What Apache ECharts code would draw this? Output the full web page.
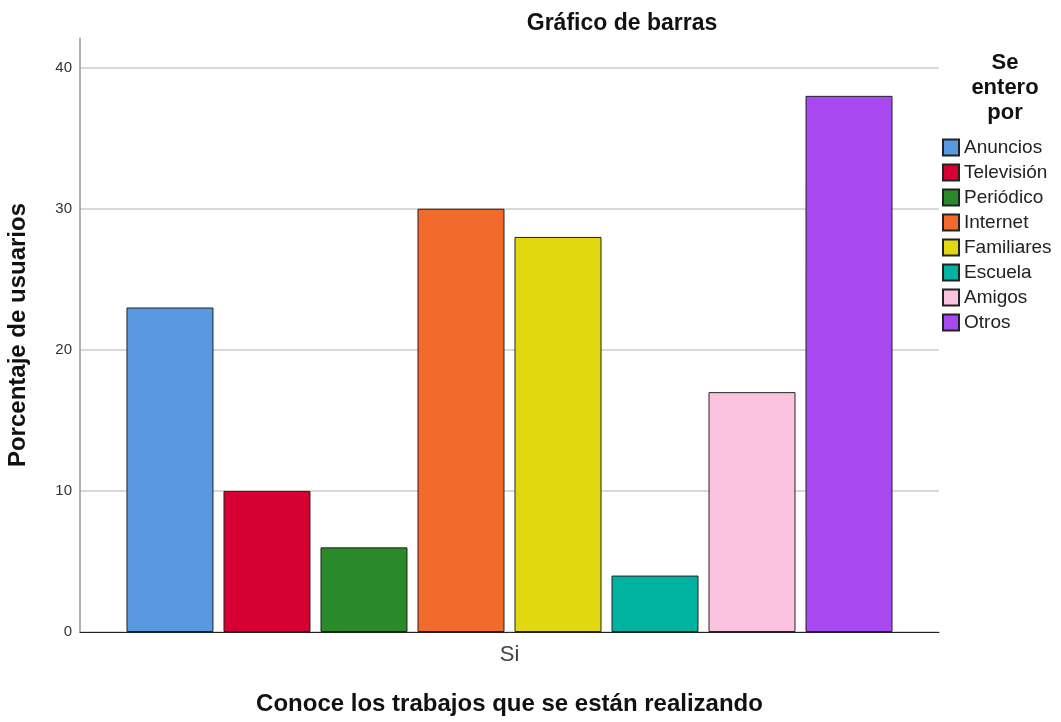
<!DOCTYPE html>
<html>
<head>
<meta charset="utf-8">
<script src="https://cdn.jsdelivr.net/npm/echarts@6/dist/echarts.min.js"></script>
<style>html,body{margin:0;padding:0;background:#fff;}#c{width:1061px;height:722px;}</style>
</head>
<body>
<div id="c"></div>
<script>
const categories = ['Si'];
const seriesNames = ['Anuncios','Televisión','Periódico','Internet','Familiares','Escuela','Amigos','Otros'];
const seriesValues = [23, 10, 6, 30, 28, 4, 17, 38];
const seriesColors = ['#5899E2','#D70032','#2A8A2A','#F26A2C','#E2D810','#00B3A0','#FBC3E0','#A748F0'];
const yTicks = [0, 10, 20, 30, 40];

const FONT = '"Liberation Sans", Arial, sans-serif';
const chart = echarts.init(document.getElementById('c'));
chart.setOption({
  animation: false,
  textStyle: { fontFamily: FONT },
  title: [
    { text: 'Gráfico de barras', left: 617, top: 7, textAlign: 'center',
      textStyle: { fontSize: 23, fontWeight: 'bold', color: '#111', fontFamily: FONT } },
    { text: 'Se\nentero\npor', left: 1000, top: 45, textAlign: 'center',
      textStyle: { fontSize: 22, fontWeight: 'bold', color: '#111', lineHeight: 25, fontFamily: FONT } }
  ],
  legend: {
    orient: 'vertical', left: 942, top: 138, padding: 0,
    itemWidth: 16, itemHeight: 16, itemGap: 6,
    icon: 'rect',
    textStyle: { fontSize: 19, lineHeight: 19, color: '#222', fontFamily: FONT },
    data: seriesNames
  },
  grid: { left: 80, right: 122, top: 38, bottom: 90, outerBoundsMode: 'none', containLabel: false },
  xAxis: {
    type: 'category', data: categories,
    name: 'Conoce los trabajos que se están realizando',
    nameLocation: 'middle', nameGap: 60,
    nameTextStyle: { fontSize: 24, fontWeight: 'bold', color: '#111', fontFamily: FONT },
    axisLine: { lineStyle: { color: '#222', width: 1 } },
    axisTick: { show: false },
    axisLabel: { fontSize: 22, color: '#444', margin: 12, fontFamily: FONT }
  },
  yAxis: {
    type: 'value', min: 0, max: 42.1, interval: 10,
    name: 'Porcentaje de usuarios',
    nameLocation: 'middle', nameGap: 50,
    nameTextStyle: { fontSize: 24, fontWeight: 'bold', color: '#111', fontFamily: FONT },
    axisLine: { show: true, lineStyle: { color: '#999', width: 1.5 } },
    axisTick: { show: false },
    axisLabel: { fontSize: 15, color: '#333', margin: 8, fontFamily: FONT,
      formatter: v => yTicks.includes(v) ? String(v) : '' },
    splitLine: { show: true, showMaxLine: false, lineStyle: { color: '#ccc', width: 1.5 } }
  },
  series: seriesNames.map((n, i) => ({
    name: n, type: 'bar', data: [seriesValues[i]],
    barWidth: 87, barGap: '11.5%',
    itemStyle: { color: seriesColors[i], borderColor: '#222', borderWidth: 1 }
  }))
});
</script>
</body>
</html>
